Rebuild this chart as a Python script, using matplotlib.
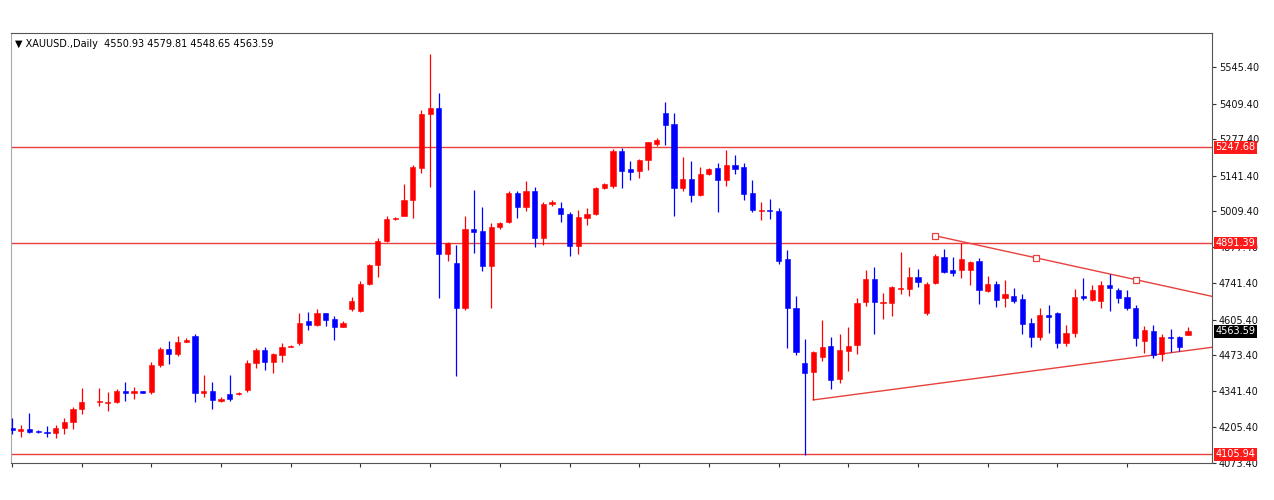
import numpy as np
import matplotlib.pyplot as plt
from matplotlib.transforms import blended_transform_factory

# XAUUSD daily candles (index 9 is a gap day)
opens = [4205, 4193, 4200, 4192, 4190, 4185, 4203, 4225, 4275, np.nan,
         4300, 4298, 4300, 4342, 4335, 4340, 4337, 4437, 4497, 4480,
         4525, 4545, 4332, 4340, 4303, 4330, 4330, 4345, 4445, 4494,
         4450, 4475, 4505, 4520, 4600, 4588, 4630, 4608, 4580, 4645,
         4640, 4740, 4810, 4900, 4980, 4993, 5052, 5170, 5370, 5395,
         4852, 4818, 4648, 4943, 4935, 4806, 4950, 4970, 5078, 5025,
         5085, 4910, 5035, 5020, 5000, 4880, 4985, 5000, 5097, 5105,
         5235, 5168, 5158, 5200, 5260, 5375, 5333, 5097, 5130, 5070,
         5148, 5170, 5127, 5180, 5173, 5078, 5010, 5015, 5011, 4830,
         4650, 4445, 4410, 4468, 4508, 4386, 4490, 4512, 4672, 4758,
         4667, 4670, 4720, 4720, 4765, 4630, 4743, 4840, 4790, 4790,
         4790, 4825, 4712, 4740, 4688, 4695, 4683, 4595, 4542, 4625,
         4630, 4520, 4558, 4695, 4680, 4677, 4735, 4718, 4690, 4648,
         4527, 4565, 4478, 4543, 4542, 4550.93]
highs = [4240, 4215, 4260, 4196, 4210, 4215, 4240, 4280, 4352, np.nan,
         4352, 4338, 4350, 4375, 4355, 4342, 4450, 4505, 4527, 4545,
         4537, 4553, 4400, 4375, 4318, 4400, 4338, 4457, 4500, 4505,
         4483, 4520, 4512, 4630, 4635, 4645, 4632, 4620, 4600, 4690,
         4750, 4815, 4910, 4990, 4988, 5110, 5180, 5385, 5595, 5450,
         4895, 4885, 4990, 5090, 5025, 4965, 4970, 5085, 5085, 5120,
         5100, 5045, 5050, 5045, 5005, 5013, 5022, 5100, 5115, 5240,
         5245, 5195, 5205, 5265, 5280, 5415, 5375, 5210, 5195, 5175,
         5170, 5190, 5238, 5220, 5190, 5125, 5045, 5055, 5022, 4866,
         4695, 4535, 4490, 4605, 4543, 4552, 4580, 4688, 4791, 4802,
         4705, 4730, 4858, 4802, 4795, 4745, 4850, 4870, 4840, 4892,
         4825, 4835, 4770, 4750, 4755, 4725, 4700, 4612, 4650, 4660,
         4635, 4585, 4720, 4762, 4737, 4750, 4775, 4725, 4717, 4660,
         4583, 4588, 4553, 4572, 4547, 4579.81]
lows = [4180, 4170, 4185, 4186, 4170, 4165, 4180, 4200, 4255, np.nan,
        4285, 4268, 4295, 4305, 4312, 4333, 4330, 4430, 4443, 4470,
        4523, 4300, 4318, 4275, 4300, 4305, 4326, 4338, 4427, 4420,
        4408, 4450, 4503, 4513, 4568, 4582, 4582, 4530, 4578, 4640,
        4635, 4735, 4765, 4896, 4978, 4990, 4985, 5150, 5100, 4685,
        4826, 4398, 4643, 4855, 4787, 4650, 4945, 4965, 4985, 5010,
        4875, 4885, 5030, 4970, 4843, 4850, 4960, 4995, 5093, 5095,
        5095, 5125, 5133, 5163, 5252, 5257, 4993, 5085, 5045, 5065,
        5145, 5005, 5105, 5148, 5050, 5008, 4977, 4980, 4815, 4500,
        4475, 4103, 4308, 4452, 4350, 4370, 4415, 4478, 4658, 4553,
        4610, 4620, 4700, 4695, 4728, 4625, 4738, 4780, 4768, 4762,
        4735, 4665, 4710, 4655, 4655, 4668, 4553, 4505, 4530, 4557,
        4500, 4510, 4542, 4680, 4677, 4650, 4638, 4668, 4642, 4510,
        4483, 4463, 4453, 4485, 4490, 4548.65]
closes = [4195, 4200, 4190, 4189, 4185, 4203, 4225, 4275, 4300, np.nan,
          4302, 4302, 4342, 4335, 4340, 4335, 4437, 4497, 4478, 4525,
          4532, 4334, 4340, 4306, 4312, 4312, 4335, 4445, 4494, 4450,
          4478, 4505, 4510, 4595, 4588, 4630, 4605, 4580, 4595, 4675,
          4740, 4810, 4898, 4982, 4985, 5052, 5175, 5370, 5395, 4850,
          4893, 4650, 4943, 4932, 4806, 4950, 4965, 5078, 5025, 5085,
          4910, 5035, 5045, 4998, 4880, 4988, 5000, 5097, 5110, 5235,
          5160, 5157, 5200, 5265, 5275, 5330, 5097, 5130, 5070, 5147,
          5165, 5127, 5183, 5168, 5075, 5015, 5013, 5010, 4825, 4650,
          4485, 4408, 4485, 4505, 4382, 4494, 4508, 4670, 4758, 4672,
          4672, 4727, 4725, 4765, 4747, 4740, 4843, 4785, 4778, 4832,
          4820, 4717, 4738, 4680, 4700, 4675, 4592, 4540, 4623, 4615,
          4520, 4555, 4690, 4685, 4715, 4735, 4725, 4688, 4648, 4538,
          4568, 4475, 4542, 4538, 4505, 4563.59]

levels = [5247.68, 4891.39, 4105.94]
upper_x, upper_y = [106, 129], [4918, 4755]
lower_x, lower_y = [92, 132], [4308, 4479]
yticks = [5545.40, 5409.40, 5277.40, 5141.40, 5009.40, 4877.40,
          4741.40, 4605.40, 4473.40, 4341.40, 4205.40, 4073.40]
title = "\u25bc XAUUSD.,Daily  4550.93 4579.81 4548.65 4563.59"

bull, bear, line_c = "#ff0000", "#0000ff", "#e8403c"

o, h, l, c = (np.array(a, dtype=float) for a in (opens, highs, lows, closes))
x = np.arange(len(o))
ok = ~np.isnan(o)
up = ok & (c >= o)
dn = ok & (c < o)

fig = plt.figure(figsize=(12.74, 5), dpi=100)
ax = fig.add_axes([11 / 1274, 37 / 500, (1212 - 11) / 1274, (467 - 37) / 500])
xmin, xmax = -0.12, 137.76
ax.set_xlim(xmin, xmax)
ax.set_ylim(4073.4, 5672)

for mask, col in ((up, bull), (dn, bear)):
    ax.vlines(x[mask], l[mask], h[mask], color=col, lw=0.9, zorder=3)
    bottom = np.minimum(o[mask], c[mask])
    height = np.maximum(np.abs(c[mask] - o[mask]), 2.5)
    ax.bar(x[mask], height, 0.6, bottom=bottom, color=col, edgecolor=col,
           lw=0.4, zorder=4)

for lv in levels:
    ax.axhline(lv, color=line_c, lw=1.0, zorder=2)

# trend lines, extended to the right edge
s_up = (upper_y[1] - upper_y[0]) / (upper_x[1] - upper_x[0])
ax.plot([upper_x[0], xmax], [upper_y[0], upper_y[0] + s_up * (xmax - upper_x[0])],
        color=line_c, lw=1.0, zorder=2)
mid_x = (upper_x[0] + upper_x[1]) / 2
ax.plot([upper_x[0], mid_x, upper_x[1]],
        [upper_y[0], upper_y[0] + s_up * (mid_x - upper_x[0]), upper_y[1]],
        ls="none", marker="s", ms=4, mfc="white", mec=line_c, mew=0.9, zorder=5)
s_lo = (lower_y[1] - lower_y[0]) / (lower_x[1] - lower_x[0])
ax.plot([lower_x[0], xmax], [lower_y[0], lower_y[0] + s_lo * (xmax - lower_x[0])],
        color=line_c, lw=1.0, zorder=2)

ax.yaxis.tick_right()
ax.set_yticks(yticks)
ax.set_yticklabels([f"{v:.2f}" for v in yticks], fontsize=7, color="#111111")
ax.set_xticks(np.arange(0, len(o), 8))
ax.set_xticklabels([])
ax.tick_params(direction="out", length=3, width=0.8, color="#333333", pad=2)
for sp in ax.spines.values():
    sp.set_color("#555555")
    sp.set_linewidth(0.8)
ax.spines["left"].set_color("#aaaaaa")

tr = blended_transform_factory(ax.transAxes, ax.transData)
for lv in levels:
    ax.text(1.003, lv, f"{lv:.2f}", transform=tr, fontsize=7, color="white",
            va="center", ha="left", clip_on=False, zorder=10,
            bbox=dict(boxstyle="square,pad=0.15", fc="#ff1a1a", ec="none"))
ax.text(1.003, closes[-1], f"{closes[-1]:.2f}", transform=tr, fontsize=7,
        color="white", va="center", ha="left", clip_on=False, zorder=10,
        bbox=dict(boxstyle="square,pad=0.15", fc="black", ec="none"))

ax.text(0.003, 0.985, title, transform=ax.transAxes, fontsize=7,
        va="top", ha="left", color="black")

fig.savefig("out.png", dpi=100)
